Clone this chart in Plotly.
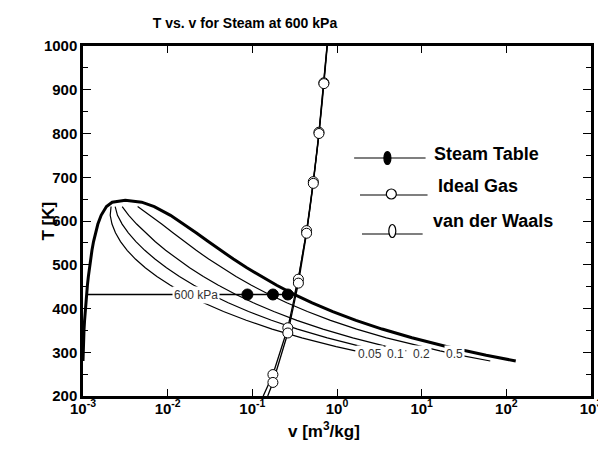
import math
import plotly.graph_objects as go

# saturated water: temperature [K], liquid and vapour specific volume [m3/kg]
T_sat = [280, 293, 313, 333, 353, 373, 393, 413, 433, 453, 473, 493, 513, 533, 553, 573, 593, 613, 633, 643, 647.3]
vf = [0.001000, 0.001002, 0.001008, 0.001017, 0.001029, 0.001044, 0.00106, 0.00108, 0.001102, 0.001127,
      0.001157, 0.00119, 0.001229, 0.001276, 0.001332, 0.001404, 0.001499, 0.001638, 0.001893, 0.002213, 0.003155]
vg = [129.2, 57.79, 19.52, 7.671, 3.407, 1.6729, 0.8919, 0.5089, 0.3071, 0.194, 0.1272, 0.08609, 0.05974,
      0.04219, 0.03017, 0.02167, 0.01549, 0.0108, 0.006945, 0.004931, 0.003155]

# lines of constant quality
T_quality = [633, 613, 593, 573, 553, 533, 513, 493, 473, 453, 433, 413, 393, 373, 353, 333, 313, 303]
T_quality_05 = T_quality + [293, 280]
v_x005 = [0.002146, 0.002096, 0.002199, 0.002417, 0.002774, 0.003322, 0.004155, 0.005435, 0.007459, 0.010771,
          0.016402, 0.026471, 0.045602, 0.084637, 0.171328, 0.384516, 0.976958, 1.645454]
v_x01 = [0.002398, 0.002554, 0.002898, 0.003431, 0.004216, 0.005367, 0.00708, 0.00968, 0.013761, 0.020414,
         0.031702, 0.051862, 0.090144, 0.16823, 0.341626, 0.768015, 1.952908, 3.289904]
v_x02 = [0.002903, 0.00347, 0.004297, 0.005457, 0.0071, 0.009459, 0.012931, 0.01817, 0.026366, 0.039702,
         0.062302, 0.102644, 0.179228, 0.335415, 0.682223, 1.535013, 3.904808, 6.578804]
v_x05 = [0.004419, 0.006219, 0.008495, 0.011537, 0.015751, 0.021733, 0.030485, 0.04364, 0.064179, 0.097564,
         0.154101, 0.25499, 0.44648, 0.836972, 1.704014, 3.836007, 9.760508, 16.445504, 28.895, 64.6]
quality_labels = ['0.05', '0.1', '0.2', '0.5']
quality_label_v = [2.44, 4.94, 9.86, 24.1]
quality_label_T = 297

# 600 kPa isobar, three models
v_steam = [0.001101, 0.0875, 0.175, 0.2625, 0.3157, 0.352, 0.3938, 0.4344, 0.4742, 0.5137, 0.592, 0.6697, 0.7472, 0.768]
T_steam = [432, 432, 432, 432, 432, 473, 523, 573, 623, 673, 773, 873, 973, 1000]
v_ideal = [0.152, 0.175, 0.2625, 0.35, 0.4375, 0.525, 0.6125, 0.70, 0.764]
T_ideal = [200, 231, 344, 458, 572, 686, 800, 914, 1000]
v_vdw = [0.1345, 0.175, 0.2625, 0.35, 0.4375, 0.525, 0.6125, 0.70, 0.7625]
T_vdw = [200, 249, 356, 467, 578, 690, 803, 916, 1000]

# x tick labels
x_tickvals = [0.001, 0.01, 0.1, 1, 10, 100, 1000]
x_ticktext = ['10<sup>-3</sup>', '10<sup>-2</sup>', '10<sup>-1</sup>', '10<sup>0</sup>',
              '10<sup>1</sup>', '10<sup>2</sup>', '10<sup>3</sup>']

FONT = 'Liberation Sans'

# plot area in pixels, used to place the hand drawn legend
L, R, TOP, BOT = 75, 594, 38, 388
def px(x):
    return (x - L) / (R - L)
def py(y):
    return (BOT - y) / (BOT - TOP)

fig = go.Figure()

# saturation dome
fig.add_trace(go.Scatter(x=vf + vg[-2::-1], y=T_sat + T_sat[-2::-1], mode='lines',
                         line=dict(color='black', width=3)))

for v_list, T_list in zip([v_x005, v_x01, v_x02, v_x05], [T_quality, T_quality, T_quality, T_quality_05]):
    fig.add_trace(go.Scatter(x=v_list, y=T_list, mode='lines', line=dict(color='black', width=1.2)))

fig.add_trace(go.Scatter(x=v_steam, y=T_steam, mode='lines', line=dict(color='black', width=1.3)))
fig.add_trace(go.Scatter(x=v_ideal, y=T_ideal, mode='lines', line=dict(color='black', width=1.3)))
fig.add_trace(go.Scatter(x=v_vdw, y=T_vdw, mode='lines', line=dict(color='black', width=1.3)))

fig.add_trace(go.Scatter(x=v_steam[1:4], y=T_steam[1:4], mode='markers',
                         marker=dict(color='black', size=11, line=dict(color='black', width=1))))
fig.add_trace(go.Scatter(x=v_vdw[1:-1], y=T_vdw[1:-1], mode='markers',
                         marker=dict(color='white', size=10, line=dict(color='black', width=1))))
fig.add_trace(go.Scatter(x=v_ideal[1:-1], y=T_ideal[1:-1], mode='markers',
                         marker=dict(color='white', size=10, line=dict(color='black', width=1))))

# labels on the curves
for lab, v in zip(quality_labels, quality_label_v):
    fig.add_annotation(x=math.log10(v), y=quality_label_T, text=lab, showarrow=False,
                       font=dict(family=FONT, size=12, color='#333333'), bgcolor='white', borderpad=1)
fig.add_annotation(x=math.log10(0.0216), y=432, text='600 kPa', showarrow=False,
                   font=dict(family=FONT, size=12, color='#333333'), bgcolor='white', borderpad=1)

# legend drawn by hand
legend = [('Steam Table', 352, 425, 150, 386, 150, 'black', 3.5, 6.5, 432, 146),
          ('Ideal Gas', 358, 427, 187, 390, 186, 'white', 5, 5, 436, 178),
          ('van der Waals', 360, 422, 226, 391, 223, 'white', 3.5, 6.5, 431, 213)]
for name, x0, x1, yl, mx, my, fill, rx, ry, tx, ty in legend:
    fig.add_shape(type='line', xref='paper', yref='paper', x0=px(x0), x1=px(x1), y0=py(yl), y1=py(yl),
                  line=dict(color='black', width=1.2))
    fig.add_shape(type='circle', xref='paper', yref='paper', xsizemode='pixel', ysizemode='pixel',
                  xanchor=px(mx), yanchor=py(my), x0=-rx, x1=rx, y0=-ry, y1=ry,
                  fillcolor=fill, line=dict(color='black', width=1.2))
    fig.add_annotation(xref='paper', yref='paper', x=px(tx), y=py(ty), xanchor='left', yanchor='middle',
                       text=name, showarrow=False, font=dict(family=FONT, size=18, color='black', weight='bold'))

# axis titles
fig.add_annotation(xref='paper', yref='paper', x=px(321), y=py(435), text='v [m<sup>3</sup>/kg]', showarrow=False,
                   font=dict(family=FONT, size=17, color='black', weight='bold'))
fig.add_annotation(xref='paper', yref='paper', x=px(28), y=0.5, text='T [K]', textangle=-90, showarrow=False,
                   font=dict(family=FONT, size=17, color='black', weight='bold'))

tickfont = dict(family=FONT, size=15, color='black', weight='bold')
fig.update_xaxes(type='log', range=[-3, 3], tickvals=x_tickvals, ticktext=x_ticktext, showgrid=False, zeroline=False,
                 showline=True, linecolor='black', linewidth=2.5, mirror='ticks', ticks='inside', ticklen=7,
                 tickwidth=1, tickcolor='black', tickfont=tickfont, ticklabelstandoff=-3)
fig.update_yaxes(range=[200, 1000], dtick=100, showgrid=False, zeroline=False,
                 showline=True, linecolor='black', linewidth=2.5, mirror='ticks', ticks='inside', ticklen=8,
                 tickwidth=1, tickcolor='black', tickfont=tickfont,
                 minor=dict(dtick=50, ticks='inside', ticklen=5, tickcolor='black', tickwidth=1))

fig.update_layout(width=606, height=452, showlegend=False,
                  paper_bgcolor='white', plot_bgcolor='white',
                  margin=dict(l=L, r=606 - R, t=TOP, b=452 - BOT),
                  title=dict(text='T vs. v for Steam at 600 kPa', x=237 / 606, xanchor='center',
                             y=1 - 15 / 452, yanchor='middle',
                             font=dict(family=FONT, size=14, color='black', weight='bold')))

fig.write_html("out.html")
